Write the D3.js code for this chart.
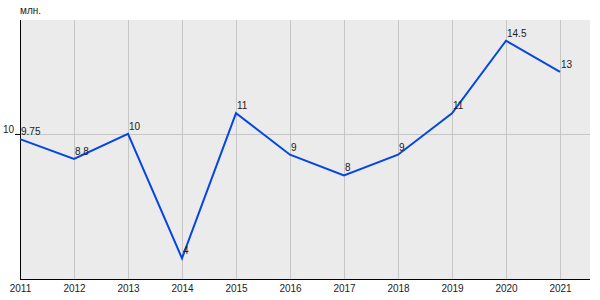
<!DOCTYPE html>
<html><head><meta charset="utf-8">
<script src="https://cdn.jsdelivr.net/npm/d3@7"></script>
<style>body{margin:0;background:#fff}svg{display:block;font-family:"Liberation Sans",Arial,sans-serif}</style>
</head><body>
<svg id="c" width="600" height="300"></svg>
<script>
const years = [2011,2012,2013,2014,2015,2016,2017,2018,2019,2020,2021];
const values = [9.75,8.8,10,4,11,9,8,9,11,14.5,13];
const labels = ["9.75","8.8","10","4","11","9","8","9","11","14.5","13"];
const yTicks = [10];
const unit = "млн.";

const svg = d3.select("#c");
const L=20, R=590, T=20, B=279;
const x = d3.scaleLinear().domain([2011,2021]).range([L,560]);
const y = d3.scaleLinear().domain([3,15.5]).range([B,T]);

svg.append("rect").attr("x",L).attr("y",T).attr("width",R-L).attr("height",B-T).attr("fill","#ebebeb");
svg.append("g").selectAll("line").data(years.slice(1)).join("line")
  .attr("x1",d=>x(d)+0.5).attr("x2",d=>x(d)+0.5).attr("y1",T).attr("y2",B)
  .attr("stroke","#c6c6c6").attr("stroke-width",1);
svg.append("g").selectAll("line").data(yTicks).join("line")
  .attr("x1",L).attr("x2",R).attr("y1",d=>Math.round(y(d))+0.5).attr("y2",d=>Math.round(y(d))+0.5)
  .attr("stroke","#c6c6c6").attr("stroke-width",1);

// axes
const xa = svg.append("g").attr("transform",`translate(0,${B})`)
  .call(d3.axisBottom(x).tickValues(years).tickFormat(d3.format("d")).tickSize(0).tickPadding(6));
xa.select(".domain").attr("d",`M${L},0.5H${R}`).attr("stroke","#000");
xa.selectAll("text").attr("font-size",10).attr("fill","#222").attr("font-family","Liberation Sans, Arial, sans-serif");

const ya = svg.append("g").attr("transform",`translate(${L},0)`)
  .call(d3.axisLeft(y).tickValues(yTicks).tickSize(5).tickPadding(1));
ya.select(".domain").attr("d",`M0.5,${T}V${B}`).attr("stroke","#000");
ya.selectAll(".tick line").attr("stroke","#000");
ya.selectAll("text").attr("font-size",10).attr("fill","#222").attr("dy","-0.15em").attr("font-family","Liberation Sans, Arial, sans-serif");

svg.append("text").attr("x",L).attr("y",14).attr("font-size",10).attr("fill","#222").text(unit);

const line = d3.line().x((d,i)=>x(years[i])).y(d=>y(d));
svg.append("path").datum(values).attr("d",line).attr("fill","none")
  .attr("stroke","#0347e0").attr("stroke-width",2).attr("stroke-linejoin","miter");

svg.append("g").selectAll("text").data(values).join("text")
  .attr("x",(d,i)=>x(years[i])+1).attr("y",d=>y(d)-4)
  .attr("font-size",10).attr("fill","#222").text((d,i)=>labels[i]);
</script>
</body></html>
